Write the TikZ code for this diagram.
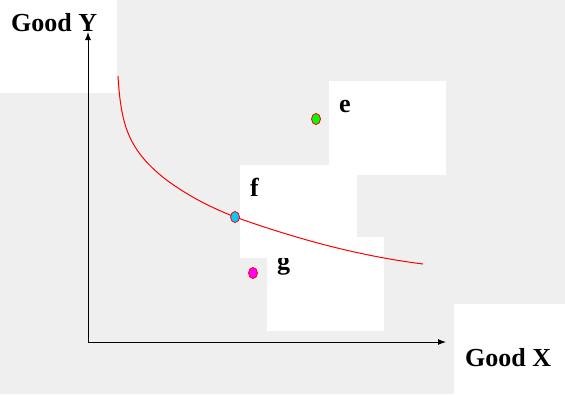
\documentclass[tikz,border=0pt]{standalone}
\usepackage{fontspec}
\setmainfont{Liberation Serif}
\usetikzlibrary{arrows.meta,shapes.geometric}
\definecolor{bggray}{HTML}{EFEFEF}
\definecolor{dotgreen}{HTML}{00FF00}
\definecolor{dotcyan}{HTML}{00CCFF}
\definecolor{dotmag}{HTML}{FF00FF}
\tikzset{
  whitebox/.style={fill=white, draw=none},
  lbl/.style={inner sep=0pt, anchor=base west, font=\fontsize{26}{30}\selectfont\bfseries},
  axis/.style={draw=black, line width=1pt, -{Latex[length=8pt,width=6pt]}},
  dot/.style={ellipse, draw=red, line width=0.8pt, minimum width=9pt, minimum height=11pt, inner sep=0pt},
  curve/.style={draw=red, line width=1pt}
}
\begin{document}
\begin{tikzpicture}[x=1pt,y=-1pt]
\useasboundingbox (0,0) rectangle (565,394);
\fill[bggray] (0,0) rectangle (565,394);
% white boxes
\fill[whitebox] (0,0) rectangle (117,93);
\fill[whitebox] (329,81) rectangle (446,175);
\fill[whitebox] (454,304) rectangle (565,394);
\fill[whitebox] (267,237) rectangle (384,331);
\node[lbl] (glbl) at (277,269) {g};
\fill[whitebox] (240,165) rectangle (357,258);
\node[lbl] (flbl) at (250,196) {f};
\node[lbl] (elbl) at (339,112) {e};
\node[lbl] (ylbl) at (11,31) {Good Y};
\node[lbl] (xlbl) at (465,366) {Good X};
% axes
\coordinate (O) at (88,342);
\coordinate (Ytip) at (88,32);
\coordinate (Xtip) at (446,342);
\draw[axis] (O) -- (Ytip);
\draw[axis] (O) -- (Xtip);
% indifference curve
\draw[curve] (118,76) .. controls (121,125) and (128,150) .. (166.5,180)
  .. controls (190,197) and (210,207) .. (235,217)
  .. controls (300,240) and (360,256) .. (423,264);
% points
\node[dot, fill=dotgreen] (e) at (316,119) {};
\node[dot, fill=dotcyan] (f) at (235,217) {};
\node[dot, fill=dotmag] (g) at (253,273) {};
\end{tikzpicture}
\end{document}
